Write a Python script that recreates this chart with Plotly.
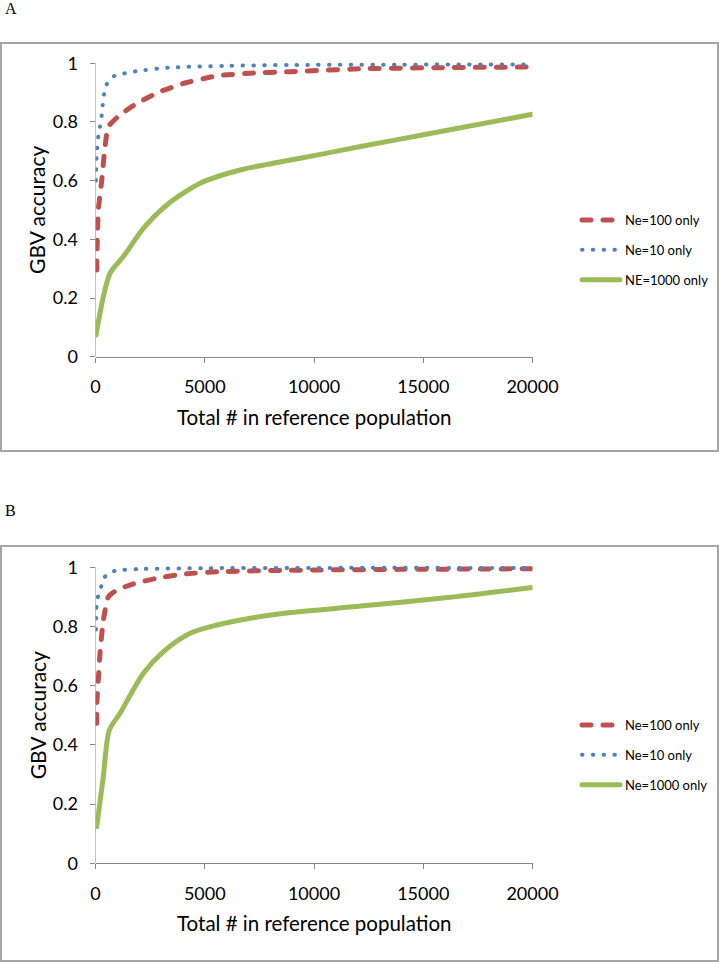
import plotly.graph_objects as go

# ---------------- data ----------------
# Panel A
A_ne100_x = [55, 80, 128, 284, 436, 587, 1124, 1890, 2959, 4027, 5560, 7087, 8922, 12133, 16000, 20000]
A_ne100_y = [0.295, 0.39, 0.50, 0.60, 0.715, 0.784, 0.824, 0.863, 0.903, 0.931, 0.957, 0.966, 0.971, 0.981, 0.985, 0.987]
A_ne10_x = [20, 60, 128, 206, 284, 330, 390, 514, 849, 1890, 3340, 5860, 8920, 14000, 20000]
A_ne10_y = [0.60, 0.70, 0.75, 0.784, 0.823, 0.858, 0.894, 0.928, 0.956, 0.973, 0.985, 0.991, 0.994, 0.995, 0.996]
A_ne1000_x = [23, 665, 1275, 2193, 3266, 4793, 6628, 8922, 10000, 12133, 15000, 20000]
A_ne1000_y = [0.074, 0.284, 0.341, 0.437, 0.517, 0.591, 0.636, 0.670, 0.685, 0.716, 0.756, 0.826]

# Panel B
B_ne100_x = [55, 60, 128, 206, 358, 587, 972, 1734, 2807, 4027, 5560, 8922, 14000, 20000]
B_ne100_y = [0.473, 0.54, 0.62, 0.71, 0.82, 0.90, 0.923, 0.944, 0.963, 0.977, 0.985, 0.990, 0.993, 0.995]
B_ne10_x = [20, 50, 128, 284, 482, 895, 1890, 5000, 10000, 20000]
B_ne10_y = [0.79, 0.87, 0.906, 0.94, 0.974, 0.988, 0.994, 0.997, 0.998, 0.998]
B_ne1000_x = [55, 358, 633, 1124, 2193, 3110, 4335, 5560, 7087, 8922, 12133, 16000, 20000]
B_ne1000_y = [0.124, 0.293, 0.45, 0.507, 0.642, 0.715, 0.777, 0.805, 0.828, 0.847, 0.869, 0.897, 0.932]

x_ticks = [0, 5000, 10000, 15000, 20000]
y_ticks = [0, 0.2, 0.4, 0.6, 0.8, 1]
y_tick_text = ["0", "0.2", "0.4", "0.6", "0.8", "1"]

names_A = ["Ne=100 only", "Ne=10 only", "NE=1000 only"]
names_B = ["Ne=100 only", "Ne=10 only", "Ne=1000 only"]
x_title = "Total # in reference population"
y_title = "GBV accuracy"

# ---------------- styling ----------------
W, H = 719, 962
RED, BLUE, GREEN = "#C0504D", "#4F81BD", "#9BBB59"
FONT = "Lato"
AXIS_GREY = "#868686"
BOX_GREY = "#A6A6A6"

def px_x(p):
    return p / W

def px_y(p):
    return 1 - p / H

fig = go.Figure()

styles = [
    dict(color=RED, width=5, dash="9px,12px", shape="spline", smoothing=0.5),
    dict(color=BLUE, width=4, dash="0.5px,10.3px", shape="spline", smoothing=0.5),
    dict(color=GREEN, width=5, dash="solid", shape="spline", smoothing=0.8),
]

panels = [
    ("x", "y", "legend", [(A_ne100_x, A_ne100_y), (A_ne10_x, A_ne10_y), (A_ne1000_x, A_ne1000_y)], names_A),
    ("x2", "y2", "legend2", [(B_ne100_x, B_ne100_y), (B_ne10_x, B_ne10_y), (B_ne1000_x, B_ne1000_y)], names_B),
]

for xa, ya, lg, series, names in panels:
    for i, ((xs, ys), nm) in enumerate(zip(series, names)):
        fig.add_trace(go.Scatter(
            x=xs, y=ys, mode="lines", name=nm, xaxis=xa, yaxis=ya,
            line=styles[i], legend=lg, legendgroup=lg + str(i),
            hoverinfo="skip",
        ))

# panel geometry in pixels
geo = {
    "A": dict(x0=95.5, x1=532.5, y0=356.7, y1=63.2, box=(1, 43, 718, 451), letter_y=9),
    "B": dict(x0=95.5, x1=532.5, y0=863.3, y1=567.3, box=(1, 546, 718, 961), letter_y=511),
}
YMAX = 1.02

axis_common = dict(
    showgrid=False, zeroline=False, ticks="outside", ticklen=5, tickwidth=1,
    tickcolor=AXIS_GREY, tickfont=dict(family=FONT, size=18, color="#000"),
    fixedrange=True, automargin=False,
)

layout_axes = {}
shapes = []
annotations = []
for key, xa, ya in [("A", "xaxis", "yaxis"), ("B", "xaxis2", "yaxis2")]:
    g = geo[key]
    ytop = g["y0"] - (g["y0"] - g["y1"]) * YMAX
    layout_axes[xa] = dict(
        axis_common, domain=[px_x(g["x0"]), px_x(g["x1"])], range=[0, 20000],
        tickvals=x_ticks, ticktext=[str(v) for v in x_ticks],
        showline=True, linecolor=AXIS_GREY, linewidth=1,
        anchor="y" if key == "A" else "y2", ticklabelstandoff=9,
    )
    layout_axes[ya] = dict(
        axis_common, domain=[px_y(g["y0"]), px_y(ytop)], range=[0, YMAX],
        tickvals=y_ticks, ticktext=y_tick_text, showline=False,
        anchor="x" if key == "A" else "x2", ticklabelstandoff=8,
    )
    xr = "x" if key == "A" else "x2"
    yr = "y" if key == "A" else "y2"
    shapes.append(dict(type="line", xref=xr, yref=yr, x0=0, x1=0, y0=0, y1=1,
                       line=dict(color=AXIS_GREY, width=1), layer="below"))
    bx0, by0, bx1, by1 = g["box"]
    shapes.append(dict(type="rect", xref="paper", yref="paper",
                       x0=px_x(bx0), x1=px_x(bx1), y0=px_y(by1), y1=px_y(by0),
                       line=dict(color=BOX_GREY, width=2), layer="below"))
    cx = (g["x0"] + g["x1"]) / 2
    annotations.append(dict(text=x_title, xref="paper", yref="paper",
                            x=px_x(cx), y=px_y(g["y0"] + 60), showarrow=False,
                            xanchor="center", yanchor="middle",
                            font=dict(family=FONT, size=20.5, color="#000")))
    annotations.append(dict(text=y_title, xref="paper", yref="paper",
                            x=px_x(37), y=px_y((g["y0"] + g["y1"]) / 2), showarrow=False,
                            textangle=-90, xanchor="center", yanchor="middle",
                            font=dict(family=FONT, size=21, color="#000")))
    annotations.append(dict(text=key, xref="paper", yref="paper",
                            x=px_x(3), y=px_y(g["letter_y"]), showarrow=False,
                            xanchor="left", yanchor="middle",
                            font=dict(family="Liberation Serif", size=16, color="#000")))

legend_common = dict(
    font=dict(family=FONT, size=13, color="#000"), bgcolor="rgba(0,0,0,0)",
    borderwidth=0, itemwidth=38, tracegroupgap=10, traceorder="grouped",
    xanchor="left", yanchor="top", itemclick=False, itemdoubleclick=False,
)

fig.update_layout(
    width=W, height=H, margin=dict(l=0, r=0, t=0, b=0, pad=0, autoexpand=False),
    paper_bgcolor="white", plot_bgcolor="white", showlegend=True,
    legend=dict(legend_common, x=px_x(577), y=px_y(205)),
    legend2=dict(legend_common, x=px_x(577), y=px_y(710)),
    shapes=shapes, annotations=annotations, **layout_axes,
)

post = """
document.documentElement.style.margin = '0';
document.documentElement.style.padding = '0';
document.body.style.margin = '0';
document.body.style.padding = '0';
document.body.style.overflow = 'hidden';
var gd = document.getElementById('{plot_id}');
function rc(){
  gd.querySelectorAll('path.js-line, .legendlines path').forEach(function(p){
    p.style.strokeLinecap = 'round';
  });
}
rc();
if (gd.on) { gd.on('plotly_afterplot', rc); }
setTimeout(rc, 50); setTimeout(rc, 300);
"""

fig.write_html("out.html", config={"displayModeBar": False}, post_script=post)
